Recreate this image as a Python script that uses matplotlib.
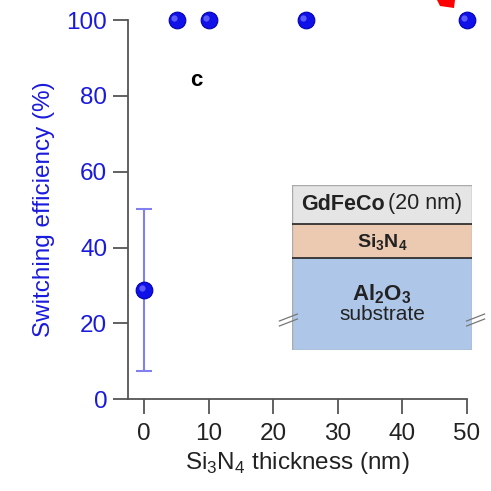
import matplotlib.pyplot as plt
from matplotlib.patches import Rectangle, Polygon
from matplotlib.transforms import ScaledTranslation

# switching efficiency vs spacer thickness
thickness = [0, 5, 10, 25, 50]
efficiency = [28.7, 100, 100, 100, 100]
err_lo = [21.2, 0, 0, 0, 0]
err_hi = [21.6, 0, 0, 0, 0]

xticks = [0, 10, 20, 30, 40, 50]
yticks = [0, 20, 40, 60, 80, 100]

blue = '#1a1adc'
axcol = '#555555'

plt.rcParams['font.family'] = ['Liberation Sans', 'DejaVu Sans']
plt.rcParams['mathtext.fontset'] = 'custom'
plt.rcParams['mathtext.rm'] = 'Liberation Sans'
plt.rcParams['mathtext.bf'] = 'Liberation Sans:bold'

fig = plt.figure(figsize=(4.91, 4.91), dpi=100)
ax = fig.add_axes([0.261, 0.187, 0.690, 0.772])

# error bar only on the first point
ax.errorbar(thickness[:1], efficiency[:1], yerr=[err_lo[:1], err_hi[:1]],
            fmt='none', ecolor='#8080f0', elinewidth=1.5, capsize=6,
            capthick=1.5, clip_on=False, zorder=2)

# shaded "ball" markers
ax.plot(thickness, efficiency, 'o', ms=12, color='#1010e8', mec='#0000b0',
        mew=0.8, clip_on=False, zorder=3)
shift = ScaledTranslation(-1.8 / 72, 1.8 / 72, fig.dpi_scale_trans)
ax.plot(thickness, efficiency, 'o', ms=4.5, color='#7c7cff', mec='none',
        alpha=0.7, clip_on=False, zorder=4, transform=ax.transData + shift)

ax.set_xlim(-2.5, 50)
ax.set_ylim(0, 100)
ax.set_xticks(xticks)
ax.set_yticks(yticks)

for s in ['top', 'right']:
    ax.spines[s].set_visible(False)
for s in ['left', 'bottom']:
    ax.spines[s].set_color(axcol)
    ax.spines[s].set_linewidth(1.3)

ax.tick_params(axis='both', direction='out', length=11, width=1.3,
               color=axcol, labelsize=17.5, pad=4)
ax.tick_params(axis='y', labelcolor=blue)
ax.tick_params(axis='x', labelcolor='#222222', pad=6)

ax.set_ylabel('Switching efficiency (%)', color=blue, fontsize=17.5, labelpad=8)
ax.set_xlabel('Si$_3$N$_4$ thickness (nm)', color='#222222', fontsize=17.5,
              labelpad=4)

ax.text(8.0, 84, 'c', fontsize=16, fontweight='bold', ha='center',
        va='center')

# layer stack sketch
box = fig.add_axes([292 / 491, 1 - 350 / 491, 180 / 491, 165 / 491])
box.set_xlim(0, 1)
box.set_ylim(0, 165)
box.axis('off')
layers = [(0, 92, '#aec6e8'), (92, 34, '#eccab2'), (126, 39, '#e5e5e5')]
for y0, h, c in layers:
    box.add_patch(Rectangle((0, y0), 1, h, facecolor=c, edgecolor='none'))
box.add_patch(Rectangle((0, 0), 1, 165, facecolor='none', edgecolor='#aaaaaa',
                        lw=1))
for yl in [92, 126]:
    box.plot([0, 1], [yl, yl], color='#222222', lw=1.2)
box.text(0.515, 146, 'GdFeCo', fontsize=15.5, fontweight='bold', ha='right',
         va='center', color='#222222')
box.text(0.535, 146, '(20 nm)', fontsize=15.5, ha='left', va='center',
         color='#222222')
box.text(0.5, 107, r'Si$_\mathbf{3}$N$_\mathbf{4}$', fontsize=14,
         fontweight='bold', ha='center', va='center', color='#222222')
box.text(0.5, 56, r'Al$_\mathbf{2}$O$_\mathbf{3}$', fontsize=16,
         fontweight='bold', ha='center', va='center', color='#222222')
box.text(0.5, 35, 'substrate', fontsize=15, ha='center', va='center',
         color='#222222')
for xb in [-0.02, 1.02]:
    for dy in [0, 5]:
        box.plot([xb - 0.05, xb + 0.05], [24 + dy, 31 + dy], color='#777777',
                 lw=0.9, clip_on=False)

# red arrow tip cut off at the top edge
fig.patches.append(Polygon([[437 / 491, 1.0], [455 / 491, 1.0],
                            [454 / 491, 1 - 8 / 491], [440 / 491, 1 - 6 / 491]],
                           closed=True, transform=fig.transFigure,
                           facecolor='#ff0000', edgecolor='none'))

fig.savefig('out.png', dpi=100)
